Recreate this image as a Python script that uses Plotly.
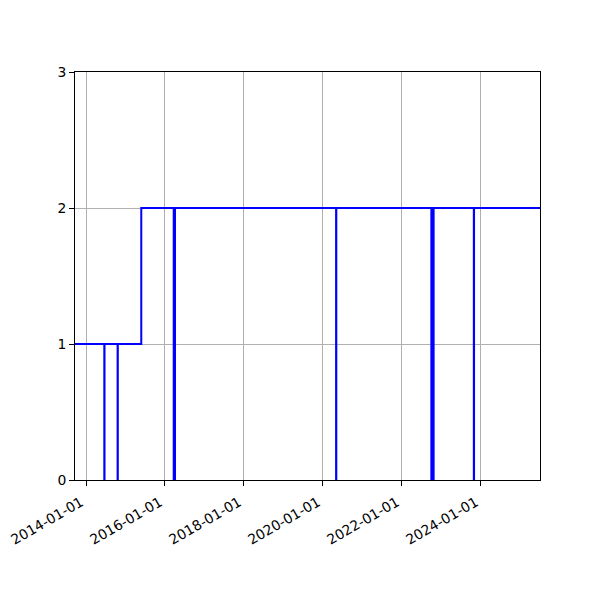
import plotly.graph_objects as go

# Step series (post-step): state value from each date onward
dates = [
    "2013-09-21", "2014-06-19", "2014-06-21", "2014-10-20", "2014-10-22",
    "2015-05-27",
    "2016-03-22", "2016-03-23", "2016-04-02", "2016-04-03",
    "2020-05-02", "2020-05-04",
    "2022-09-30", "2022-10-01", "2022-10-10", "2022-10-11", "2022-10-20", "2022-10-21",
    "2023-10-28", "2023-10-30", "2025-07-01",
]
values = [
    1, 0, 1, 0, 1,
    2,
    0, 2, 0, 2,
    0, 2,
    0, 2, 0, 2, 0, 2,
    0, 2, 2,
]

x_ticks = ["2014-01-01", "2016-01-01", "2018-01-01", "2020-01-01", "2022-01-01", "2024-01-01"]
y_ticks = [0, 1, 2, 3]

fig = go.Figure()
fig.add_trace(go.Scatter(
    x=dates, y=values, mode="lines", line_shape="hv",
    line=dict(color="#0000ff", width=2), showlegend=False,
))

axis_common = dict(
    showline=True, linecolor="black", linewidth=1, mirror=True,
    ticks="outside", ticklen=5, tickcolor="black", tickwidth=1,
    showgrid=True, gridcolor="#b0b0b0", gridwidth=1, zeroline=False,
    tickfont=dict(family="DejaVu Sans", size=13.9, color="black"),
    automargin=False,
)

fig.update_layout(
    width=600, height=600,
    margin=dict(l=67, r=68, t=64, b=128),
    paper_bgcolor="white", plot_bgcolor="white",
    xaxis=dict(
        range=[dates[0], dates[-1]], type="date",
        tickvals=x_ticks, ticktext=x_ticks, tickangle=-30,
        ticklabelshift=-5, ticklabelstandoff=3,
        **axis_common,
    ),
    yaxis=dict(
        range=[0, 3], tickvals=y_ticks, ticktext=[str(v) for v in y_ticks],
        **axis_common,
    ),
)

fig.write_html("out.html")
